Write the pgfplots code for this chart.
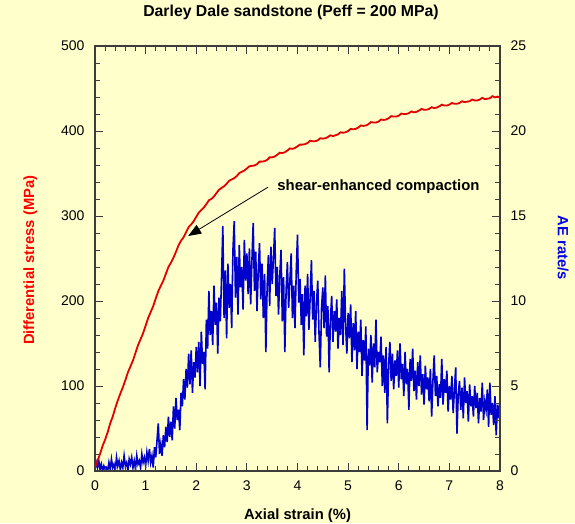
\documentclass[border=0pt]{standalone}
\usepackage{fontspec}
\setmainfont{Liberation Sans}
\usepackage{pgfplots}
\pgfplotsset{compat=1.18}
\usetikzlibrary{arrows.meta}
\definecolor{bgyellow}{RGB}{255,255,204}
\definecolor{redline}{RGB}{228,0,0}
\definecolor{blueline}{RGB}{0,0,205}
\definecolor{axisgray}{RGB}{60,60,60}
\definecolor{labelred}{RGB}{255,0,0}
\definecolor{labelblue}{RGB}{0,0,230}

\begin{document}
\begin{tikzpicture}
\useasboundingbox (-95pt,-52pt) rectangle (480pt,471pt);
\fill[bgyellow] (-95pt,-52pt) rectangle (480pt,471pt);
\pgfplotsset{
  common/.style={
    scale only axis, width=405pt, height=425pt,
    xmin=0, xmax=8,
    axis line style={axisgray, line width=1.4pt},
    major tick length=8pt, minor tick length=5pt,
    every tick/.style={axisgray, line width=0.9pt},
    tick align=inside,
    /pgf/number format/assume math mode=true,
    ticklabel style={font=\fontsize{14}{16}\selectfont},
  }
}
% right axis: AE rate
\begin{axis}[common,
  ymin=0, ymax=25,
  axis y line*=right, hide x axis,
  ytick={0,5,...,25}, minor y tick num=4,
  yticklabel style={xshift=7pt},
  every axis y label/.style={at={(axis description cs:1.156,0.525)}, rotate=-90, anchor=center},
  ylabel={\fontsize{14.8}{16}\selectfont\bfseries\color{labelblue}AE rate/s},
]
\addplot[blueline, line width=1.6pt] coordinates {
(0,0.1)(0.025,0.5)(0.05,0.2)(0.075,0.6)(0.1,0.1)(0.125,0.4)(0.15,0)(0.175,0.3)(0.2,0.1)(0.225,0.2)
(0.25,0)(0.275,0.5)(0.3,0.1)(0.325,0.7)(0.35,0.2)(0.375,0.4)(0.4,0)(0.425,0.8)(0.45,0.3)(0.475,0.6)
(0.5,0.1)(0.525,0.5)(0.55,0.2)(0.575,0.9)(0.6,0.3)(0.625,0.5)(0.65,0)(0.675,0.7)(0.7,0.4)(0.725,0.8)
(0.75,0.2)(0.775,0.6)(0.8,0.1)(0.825,0.9)(0.85,0.4)(0.875,0.6)(0.9,0.2)(0.925,1.0)(0.95,0.5)(0.975,0.8)
(1.0,0.3)(1.025,1.1)(1.05,0.6)(1.075,1.3)(1.1,0.5)(1.125,0.9)(1.15,0.2)(1.175,1.4)(1.2,0.8)(1.225,1.8)
(1.25,2.8)(1.275,1.0)(1.3,1.6)(1.325,0.9)(1.35,2.1)(1.375,1.4)(1.4,2.6)(1.425,1.7)(1.45,3.2)(1.475,2.0)
(1.5,2.9)(1.525,1.8)(1.55,3.8)(1.575,2.5)(1.6,4.3)(1.625,3.0)(1.65,3.6)(1.675,2.4)(1.7,4.6)(1.725,3.8)
(1.75,5.4)(1.775,4.2)(1.8,6.0)(1.825,4.9)(1.85,6.9)(1.875,5.1)(1.9,7.1)(1.925,4.6)(1.95,6.4)(1.975,5.5)
(2.0,7.3)(2.025,5.8)(2.05,7.6)(2.075,5.0)(2.1,8.2)(2.125,6.3)(2.15,7.0)(2.175,4.8)(2.2,8.9)(2.225,7.2)
(2.25,10.6)(2.275,8.0)(2.3,9.4)(2.325,7.4)(2.35,10.9)(2.375,8.6)(2.4,9.9)(2.425,6.9)(2.45,10.2)(2.475,8.8)
(2.5,11.4)(2.525,14.4)(2.55,9.0)(2.575,11.8)(2.6,7.8)(2.625,12.2)(2.65,9.6)(2.675,11.0)(2.7,8.4)(2.725,13.0)
(2.75,14.7)(2.775,10.2)(2.8,12.6)(2.825,9.2)(2.85,13.3)(2.875,10.8)(2.9,12.0)(2.925,9.5)(2.95,13.6)(2.975,11.2)
(3.0,12.8)(3.025,10.4)(3.05,13.1)(3.075,9.8)(3.1,12.4)(3.125,14.6)(3.15,10.6)(3.175,12.9)(3.2,9.4)(3.225,11.8)
(3.25,13.4)(3.275,10.1)(3.3,12.2)(3.325,9.0)(3.35,11.6)(3.375,7.0)(3.4,10.8)(3.425,12.7)(3.45,9.7)(3.475,13.2)
(3.5,11.0)(3.525,12.5)(3.55,14.3)(3.575,10.3)(3.6,12.0)(3.625,9.2)(3.65,11.5)(3.675,13.0)(3.7,8.8)(3.725,11.4)
(3.75,7.0)(3.775,10.6)(3.8,12.3)(3.825,9.6)(3.85,11.2)(3.875,12.8)(3.9,9.0)(3.925,10.9)(3.95,8.4)(3.975,11.7)
(4.0,13.9)(4.025,9.9)(4.05,11.3)(4.075,8.6)(4.1,10.4)(4.125,6.8)(4.15,10.9)(4.175,9.1)(4.2,11.6)(4.225,8.3)
(4.25,10.2)(4.275,12.4)(4.3,8.9)(4.325,10.6)(4.35,7.6)(4.375,9.8)(4.4,11.2)(4.425,8.1)(4.45,6.1)(4.475,9.6)
(4.5,10.8)(4.525,8.4)(4.55,11.5)(4.575,7.9)(4.6,9.7)(4.625,5.8)(4.65,8.8)(4.675,10.3)(4.7,7.6)(4.725,9.4)
(4.75,8.2)(4.775,10.1)(4.8,7.2)(4.825,9.0)(4.85,8.0)(4.875,10.6)(4.9,7.4)(4.925,11.9)(4.95,8.6)(4.975,6.9)
(5.0,9.3)(5.025,7.8)(5.05,9.8)(5.075,6.4)(5.1,8.7)(5.125,7.1)(5.15,9.4)(5.175,6.0)(5.2,8.2)(5.225,7.0)
(5.25,8.9)(5.275,5.6)(5.3,7.7)(5.325,6.5)(5.35,8.5)(5.375,2.4)(5.4,7.2)(5.425,6.2)(5.45,8.0)(5.475,5.2)
(5.5,7.5)(5.525,6.1)(5.55,8.9)(5.575,5.8)(5.6,7.0)(5.625,6.4)(5.65,7.9)(5.675,5.0)(5.7,6.8)(5.725,4.6)
(5.75,7.3)(5.775,2.8)(5.8,6.2)(5.825,7.6)(5.85,5.3)(5.875,6.9)(5.9,4.8)(5.925,6.5)(5.95,5.6)(5.975,7.1)
(6.0,4.9)(6.025,7.5)(6.05,5.4)(6.075,6.3)(6.1,4.4)(6.125,7.0)(6.15,5.1)(6.175,6.0)(6.2,3.6)(6.225,6.6)
(6.25,5.3)(6.275,7.2)(6.3,4.7)(6.325,5.9)(6.35,4.2)(6.375,6.4)(6.4,5.0)(6.425,6.8)(6.45,4.5)(6.475,5.7)
(6.5,3.9)(6.525,6.2)(6.55,4.8)(6.575,5.5)(6.6,4.1)(6.625,6.0)(6.65,3.2)(6.675,5.3)(6.7,6.8)(6.725,4.4)
(6.75,5.6)(6.775,3.8)(6.8,5.1)(6.825,4.3)(6.85,6.6)(6.875,3.9)(6.9,5.4)(6.925,4.6)(6.95,5.9)(6.975,3.5)
(7.0,5.0)(7.025,4.2)(7.05,5.6)(7.075,3.4)(7.1,4.8)(7.125,6.1)(7.15,2.2)(7.175,4.5)(7.2,5.3)(7.225,3.6)
(7.25,4.9)(7.275,3.1)(7.3,5.5)(7.325,4.0)(7.35,4.7)(7.375,2.9)(7.4,5.1)(7.425,3.8)(7.45,4.4)(7.475,3.2)
(7.5,5.0)(7.525,3.7)(7.55,4.6)(7.575,2.8)(7.6,4.3)(7.625,3.5)(7.65,5.2)(7.675,3.0)(7.7,4.1)(7.725,3.6)
(7.75,4.8)(7.775,2.6)(7.8,5.2)(7.825,3.3)(7.85,4.0)(7.875,2.7)(7.9,4.4)(7.925,2.1)(7.95,3.9)(7.975,3.1)
(8.0,4.2)
};
\end{axis}
% left axis: differential stress
\begin{axis}[common,
  ymin=0, ymax=500,
  ytick={0,100,...,500}, minor y tick num=4,
  xtick={0,1,...,8}, minor x tick num=4,
  xticklabel style={yshift=-6pt},
  yticklabel style={xshift=-7pt},
  title={\fontsize{15.8}{18}\selectfont\bfseries Darley Dale sandstone (Peff = 200 MPa)},
  title style={at={(axis description cs:0.484,1.066)}, anchor=center},
  every axis x label/.style={at={(axis description cs:0.5,-0.104)}, anchor=center},
  xlabel={\fontsize{14.8}{16}\selectfont\bfseries Axial strain (\%)},
  every axis y label/.style={at={(axis description cs:-0.16,0.496)}, rotate=90, anchor=center},
  ylabel={\fontsize{14.8}{16}\selectfont\bfseries\color{labelred}Differential stress (MPa)},
]
\addplot[redline, line width=1.8pt] coordinates {
(0.00,4)(0.05,12.5)(0.10,20)(0.15,29.5)(0.20,37)(0.25,45.5)(0.30,56)(0.35,64)(0.40,74)(0.45,83)
(0.50,91)(0.55,98.5)(0.60,107)(0.65,116)(0.70,123)(0.75,130)(0.80,139)(0.85,148)(0.90,155)(0.95,162)
(1.00,171)(1.05,180)(1.10,187)(1.15,194)(1.20,203)(1.25,211.5)(1.30,218)(1.35,224)(1.40,232)(1.45,240)
(1.50,245)(1.55,251)(1.60,258)(1.65,265.5)(1.70,271)(1.75,275)(1.80,281)(1.85,287)(1.90,290)(1.95,294)
(2.00,299)(2.05,304)(2.10,307)(2.15,310)(2.20,314)(2.25,318.5)(2.30,320)(2.35,323)(2.40,327)(2.45,331)
(2.50,333)(2.55,335)(2.60,338)(2.65,341.5)(2.70,343)(2.75,344.5)(2.80,347)(2.85,350.5)(2.90,352)(2.95,353.5)
(3.00,356)(3.05,358.5)(3.10,359)(3.15,359.5)(3.20,361)(3.25,364)(3.30,364)(3.35,364.5)(3.40,366)(3.45,369)
(3.50,369)(3.55,370)(3.60,372)(3.65,374.5)(3.70,374)(3.75,375)(3.80,377)(3.85,379.5)(3.90,379)(3.95,380)
(4.00,382)(4.05,384)(4.10,384)(4.15,384.5)(4.20,386)(4.25,388.5)(4.30,388)(4.35,388)(4.40,389)(4.45,391.5)
(4.50,391)(4.55,391.5)(4.60,393)(4.65,395)(4.70,394)(4.75,395)(4.80,396)(4.85,398.5)(4.90,398)(4.95,398.5)
(5.00,400)(5.05,402.5)(5.10,402)(5.15,402.5)(5.20,404)(5.25,406.5)(5.30,406)(5.35,406.5)(5.40,408)(5.45,410.5)
(5.50,410)(5.55,410)(5.60,411)(5.65,413.5)(5.70,413)(5.75,413.5)(5.80,415)(5.85,417.5)(5.90,417)(5.95,417)
(6.00,418)(6.05,420.5)(6.10,420)(6.15,420)(6.20,421)(6.25,423)(6.30,422)(6.35,422.5)(6.40,424)(6.45,426)
(6.50,425)(6.55,425)(6.60,426)(6.65,428)(6.70,427)(6.75,427.5)(6.80,429)(6.85,431)(6.90,430)(6.95,430)
(7.00,431)(7.05,433)(7.10,432)(7.15,432)(7.20,433)(7.25,435)(7.30,434)(7.35,434.5)(7.40,435)(7.45,437)
(7.50,436)(7.55,436)(7.60,437)(7.65,439)(7.70,437.5)(7.75,438)(7.80,438.5)(7.85,441)(7.90,439.5)(7.95,440.5)
(8.00,439)
};
\draw[black, line width=0.8pt, -{Triangle[length=13pt,width=10pt]}] (axis cs:3.42,334) -- (axis cs:1.84,276.5);
\node[anchor=west, inner sep=0pt, font=\fontsize{14.9}{16}\selectfont\bfseries] at (axis cs:3.6,334) {shear-enhanced compaction};
\end{axis}
\end{tikzpicture}
\end{document}
